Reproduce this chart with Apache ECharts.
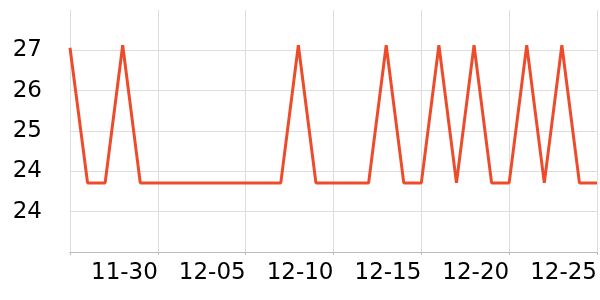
<!DOCTYPE html>
<html>
<head>
<meta charset="utf-8">
<script src="https://cdn.jsdelivr.net/npm/echarts@6/dist/echarts.min.js"></script>
<style>html,body{margin:0;padding:0;background:#fff}#c{width:600px;height:300px}</style>
</head>
<body>
<div id="c"></div>
<script>
const dates = ['11-25','11-26','11-27','11-28','11-29','11-30',
  '12-01','12-02','12-03','12-04','12-05','12-06','12-07','12-08','12-09','12-10',
  '12-11','12-12','12-13','12-14','12-15','12-16','12-17','12-18','12-19','12-20',
  '12-21','12-22','12-23','12-24','12-25'];
const values = [26.85, 24.17, 24.17, 26.9, 24.17, 24.17,
  24.17, 24.17, 24.17, 24.17, 24.17, 24.17, 24.17, 26.9, 24.17, 24.17,
  24.17, 24.17, 26.9, 24.17, 24.17, 26.9, 24.17, 26.9, 24.17, 24.17,
  26.9, 24.17, 26.9, 24.17, 24.17];
const yMin = 22.8, yMax = 27.6, yStep = 0.8;

const chart = echarts.init(document.getElementById('c'), null, {renderer: 'canvas'});
const every5 = (i) => i % 5 === 0;
chart.setOption({
  animation: false,
  grid: {left: 70, right: 0, top: 10, bottom: 48, containLabel: false},
  xAxis: {
    type: 'category',
    data: dates,
    boundaryGap: false,
    axisLine: {show: true, lineStyle: {color: '#bbbbbb', width: 1}},
    axisTick: {show: true, length: 3, interval: every5, lineStyle: {color: '#bbbbbb'}},
    axisLabel: {
      interval: (i) => i % 5 === 0 && i > 0,
      align: 'right',
      margin: 10,
      color: '#000',
      fontFamily: 'DejaVu Sans',
      fontSize: 23
    },
    splitLine: {show: true, interval: every5, lineStyle: {color: '#dddddd', width: 1}}
  },
  yAxis: {
    type: 'value',
    min: yMin, max: yMax, interval: yStep,
    axisLine: {show: false},
    axisTick: {show: false},
    axisLabel: {
      showMinLabel: false, showMaxLabel: false,
      margin: 28,
      color: '#000',
      fontFamily: 'DejaVu Sans',
      fontSize: 23,
      formatter: (v) => Math.round(v).toString()
    },
    splitLine: {show: true, showMaxLine: false, lineStyle: {color: '#dddddd', width: 1}}
  },
  series: [{
    type: 'line',
    data: values,
    showSymbol: false,
    symbol: 'none',
    lineStyle: {color: '#ee4b2b', width: 3},
    itemStyle: {color: '#ee4b2b'}
  }]
});
</script>
</body>
</html>
